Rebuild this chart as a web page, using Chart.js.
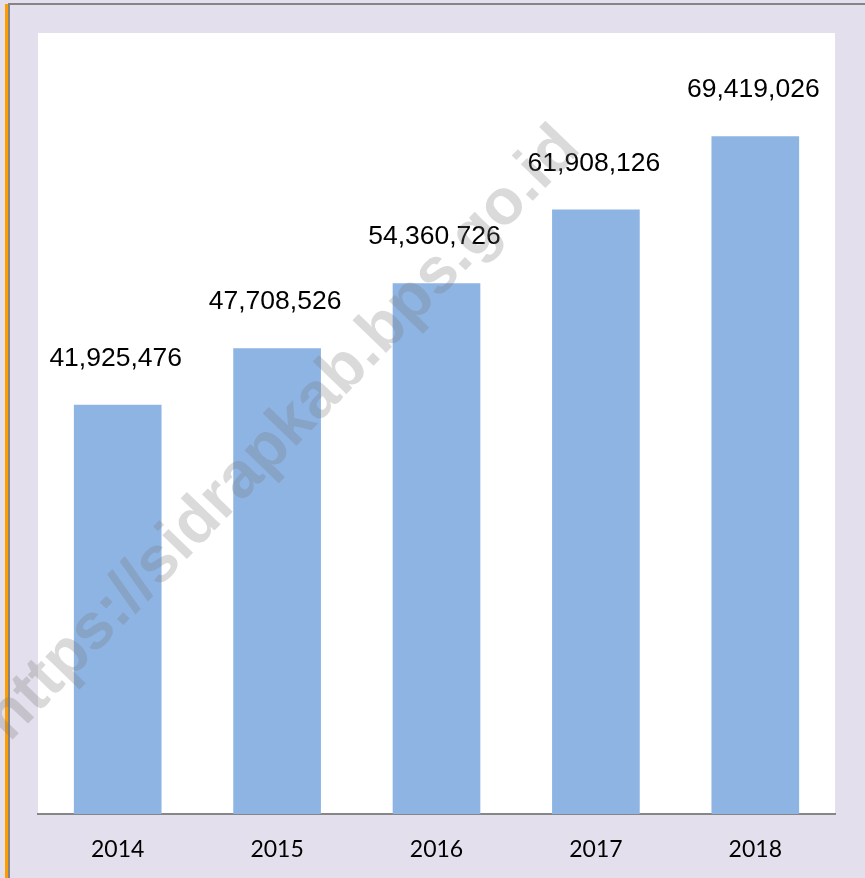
<!DOCTYPE html>
<html><head><meta charset="utf-8">
<script src="https://cdn.jsdelivr.net/npm/chart.js@4.4.0/dist/chart.umd.min.js"></script>
<style>
html,body{margin:0;padding:0;background:#E4DFEC;overflow:hidden;}
#wrap{width:865px;height:878px;position:relative;}
</style>
</head><body>
<div id="wrap"><canvas id="c"></canvas></div>
<script>
const years = ['2014', '2015', '2016', '2017', '2018'];
const values = [41925476, 47708526, 54360726, 61908126, 69419026];
const yMin = 0;
const yMax = 80000000;
const watermarkText = 'https://sidrapkab.bps.go.id';

const fmt = v => v.toLocaleString('en-US');

const framePlugin = {
  id: 'frame',
  beforeDraw(chart) {
    const ctx = chart.ctx, a = chart.chartArea;
    const W = chart.width, H = chart.height;
    ctx.save();
    ctx.fillStyle = '#E4DFEC';
    ctx.fillRect(0, 0, W, H);
    ctx.fillStyle = '#FFFFFF';
    ctx.fillRect(a.left, a.top, a.right - a.left, a.bottom - a.top);
    // orange left stripe
    ctx.fillStyle = '#FF9C00';
    ctx.fillRect(5, 4, 3, H - 4);
    // grey frame left and top
    ctx.fillStyle = '#858585';
    ctx.fillRect(8, 3, 2, H - 3);
    ctx.fillRect(8, 3, W - 8, 2);
    ctx.restore();
  }
};

const labelPlugin = {
  id: 'valueLabels',
  afterDatasetsDraw(chart) {
    const ctx = chart.ctx;
    const meta = chart.getDatasetMeta(0);
    ctx.save();
    ctx.fillStyle = '#000000';
    ctx.font = '26.5px "Liberation Sans", Arial, sans-serif';
    ctx.textAlign = 'center';
    ctx.textBaseline = 'alphabetic';
    meta.data.forEach((bar, i) => {
      ctx.fillText(fmt(values[i]), bar.x - 2, bar.y - 39);
    });
    ctx.restore();
  }
};

const watermarkPlugin = {
  id: 'watermark',
  afterDraw(chart) {
    const ctx = chart.ctx;
    ctx.save();
    ctx.translate(283, 434);
    ctx.rotate(-46 * Math.PI / 180);
    ctx.fillStyle = 'rgba(120,120,120,0.27)';
    ctx.font = 'bold 64.5px "Liberation Sans", Arial, sans-serif';
    ctx.textAlign = 'center';
    ctx.textBaseline = 'middle';
    ctx.fillText(watermarkText, 0, 0);
    ctx.restore();
  }
};

new Chart(document.getElementById('c'), {
  type: 'bar',
  data: {
    labels: years,
    datasets: [{
      data: values,
      backgroundColor: '#8EB4E3',
      borderWidth: 0,
      barPercentage: 0.55,
      categoryPercentage: 1.0
    }]
  },
  options: {
    responsive: true,
    maintainAspectRatio: false,
    devicePixelRatio: 1,
    animation: false,
    events: [],
    layout: { padding: { left: 38, top: 33, right: 30, bottom: 0 } },
    plugins: { legend: { display: false }, tooltip: { enabled: false }, title: { display: false } },
    scales: {
      x: {
        grid: { display: false, drawTicks: false },
        border: { display: true, color: '#868686', width: 2 },
        ticks: { color: '#000000', padding: 22, font: { family: 'Lato, "Open Sans", sans-serif', size: 23 } },
        afterFit: s => { s.height = 64; }
      },
      y: {
        display: false,
        min: yMin,
        max: yMax
      }
    }
  },
  plugins: [framePlugin, labelPlugin, watermarkPlugin]
});
</script>
</body></html>
